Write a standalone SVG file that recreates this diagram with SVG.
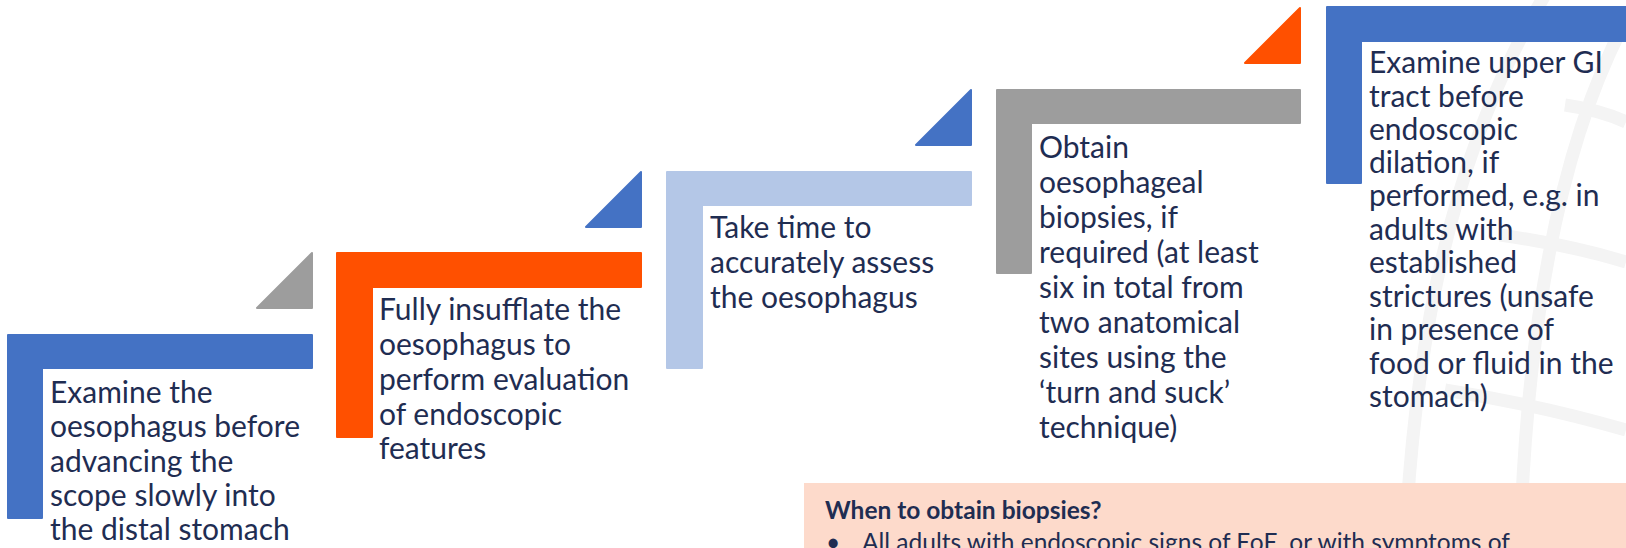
<svg xmlns="http://www.w3.org/2000/svg" width="1626" height="548" viewBox="0 0 1626 548">
<style>
.t{font-family:Lato,"Open Sans",sans-serif;font-size:30px;fill:#1F2D52}
.h{font-family:Lato,"Open Sans",sans-serif;font-size:24.5px;font-weight:bold;fill:#1F2D52}
.b{font-family:Lato,"Open Sans",sans-serif;font-size:24.5px;fill:#1F2D52}
.globe{fill:none;stroke:#F4F4F4;stroke-width:13}
</style>
<rect width="1626" height="548" fill="#FFFFFF"/>
<g id="watermark">
<path class="globe" d="M1545,-5 Q1420,200 1405,548"/>
<path class="globe" d="M1626,20 Q1530,200 1520,548"/>
<path class="globe" d="M1565,105 Q1600,110 1626,122"/>
<path class="globe" d="M1500,235 Q1570,245 1626,262"/>
<path class="globe" d="M1445,390 Q1540,405 1626,430"/>
</g>
<g id="node1">
<path d="M8,335 H312 V368 H42 V518 H8 Z" fill="#4472C4" stroke="#4472C4" stroke-width="2" stroke-linejoin="round"/>
<path d="M257,308 L312,253 V308 Z" fill="#9D9D9D" stroke="#9D9D9D" stroke-width="2" stroke-linejoin="round"/>
<text class="t" x="50" y="403">Examine the</text>
<text class="t" x="50" y="437">oesophagus before</text>
<text class="t" x="50" y="472">advancing the</text>
<text class="t" x="50" y="506">scope slowly into</text>
<text class="t" x="50" y="540">the distal stomach</text>
</g>
<g id="node2">
<path d="M337,253 H641 V287 H372 V437 H337 Z" fill="#FF5000" stroke="#FF5000" stroke-width="2" stroke-linejoin="round"/>
<path d="M586,227 L641,172 V227 Z" fill="#4472C4" stroke="#4472C4" stroke-width="2" stroke-linejoin="round"/>
<text class="t" x="379" y="320">Fully insufflate the</text>
<text class="t" x="379" y="355">oesophagus to</text>
<text class="t" x="379" y="390">perform evaluation</text>
<text class="t" x="379" y="425">of endoscopic</text>
<text class="t" x="379" y="459">features</text>
</g>
<g id="node3">
<path d="M667,172 H971 V205 H702 V368 H667 Z" fill="#B4C7E7" stroke="#B4C7E7" stroke-width="2" stroke-linejoin="round"/>
<path d="M916,145 L971,90 V145 Z" fill="#4472C4" stroke="#4472C4" stroke-width="2" stroke-linejoin="round"/>
<text class="t" x="710" y="238">Take time to</text>
<text class="t" x="710" y="273">accurately assess</text>
<text class="t" x="710" y="308">the oesophagus</text>
</g>
<g id="node4">
<path d="M997,90 H1300 V123 H1031 V273 H997 Z" fill="#9D9D9D" stroke="#9D9D9D" stroke-width="2" stroke-linejoin="round"/>
<path d="M1245,63 L1300,8 V63 Z" fill="#FF5000" stroke="#FF5000" stroke-width="2" stroke-linejoin="round"/>
<text class="t" x="1039" y="158">Obtain</text>
<text class="t" x="1039" y="193">oesophageal</text>
<text class="t" x="1039" y="228">biopsies, if</text>
<text class="t" x="1039" y="263">required (at least</text>
<text class="t" x="1039" y="298">six in total from</text>
<text class="t" x="1039" y="333">two anatomical</text>
<text class="t" x="1039" y="368">sites using the</text>
<text class="t" x="1039" y="403">‘turn and suck’</text>
<text class="t" x="1039" y="438">technique)</text>
</g>
<g id="node5">
<path d="M1327,7 H1630 V41 H1361 V183 H1327 Z" fill="#4472C4" stroke="#4472C4" stroke-width="2" stroke-linejoin="round"/>
<text class="t" x="1369" y="73">Examine upper GI</text>
<text class="t" x="1369" y="107">tract before</text>
<text class="t" x="1369" y="140">endoscopic</text>
<text class="t" x="1369" y="173">dilation, if</text>
<text class="t" x="1369" y="206">performed, e.g. in</text>
<text class="t" x="1369" y="240">adults with</text>
<text class="t" x="1369" y="273">established</text>
<text class="t" x="1369" y="307">strictures (unsafe</text>
<text class="t" x="1369" y="340">in presence of</text>
<text class="t" x="1369" y="374">food or fluid in the</text>
<text class="t" x="1369" y="407">stomach)</text>
</g>
<g id="note">
<rect x="804" y="483" width="830" height="80" fill="#FDDACB"/>
<text class="h" x="825" y="519">When to obtain biopsies?</text>
<text class="b" x="826" y="551">•</text>
<text class="b" x="862" y="551">All adults with endoscopic signs of EoE, or with symptoms of</text>
</g>
<g id="connectors"></g>
</svg>
